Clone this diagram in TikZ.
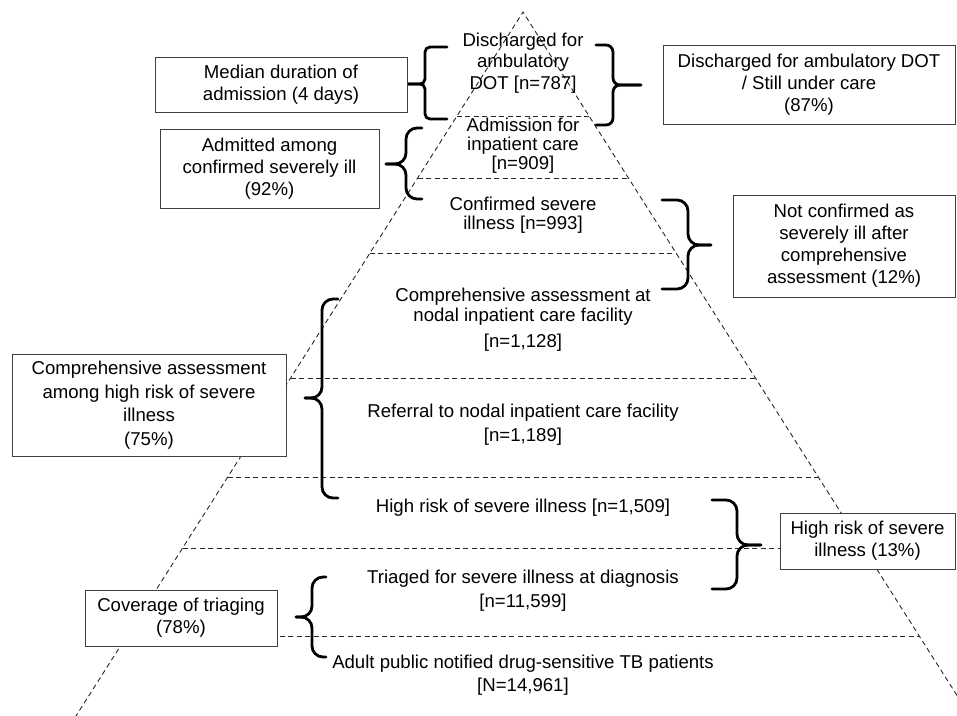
\documentclass[tikz,border=0pt]{standalone}
\usepackage{fontspec}
\setmainfont{Liberation Sans}
\newcommand{\mybrace}[7]{% xe xs xt yt ym yb r
  \draw[bracestyle, rounded corners=#7] (#1,#4) -- (#2,#4) -- (#2,#5) -- (#3,#5);
  \draw[bracestyle, rounded corners=#7] (#3,#5) -- (#2,#5) -- (#2,#6) -- (#1,#6);}
\begin{document}
\begin{tikzpicture}[x=1pt,y=-1pt,
  dashline/.style={dash pattern=on 5pt off 3.5pt, line width=0.9pt, black!85},
  bracestyle/.style={line width=2.8pt, line cap=round, line join=round, black},
  tlabel/.style={align=center, inner sep=0pt, font=\fontsize{18.6}{20}\selectfont},
  box/.style={draw=black!75, line width=1pt, fill=white, align=center, inner sep=0pt,
    font=\fontsize{18.6}{22}\selectfont}]
\useasboundingbox (0,0) rectangle (957,715);
% pyramid
\begin{scope}
\clip (0,0) rectangle (957,715);
\coordinate (apex) at (523,12);
\coordinate (bl) at ({523-0.635*720},732);
\coordinate (br) at ({523+0.635*720},732);
\draw[dashline] (bl) -- (apex) -- (br);
\foreach \yy in {116,178,253,378,477,548,636}
  \draw[dashline] ({523-0.635*(\yy-12)},\yy) -- ({523+0.635*(\yy-12)},\yy);
\end{scope}
% braces
\mybrace{447}{425}{408}{47}{84}{119}{5}
\mybrace{596}{613}{641}{45}{85}{125}{7}
\mybrace{422}{406}{386}{128}{164}{199}{11}
\mybrace{662}{688}{711}{200}{245}{289}{11}
\mybrace{338}{322}{305}{299}{398}{498}{11}
\mybrace{712}{737}{761}{500}{545}{589}{11}
\mybrace{326}{312}{296}{577}{617}{657}{11}
% pyramid labels
\node[tlabel, font=\fontsize{18.6}{21.5}\selectfont] (t1) at (523,63) {Discharged for\\ambulatory\\DOT [n=787]};
\node[tlabel, font=\fontsize{18.6}{19}\selectfont] (t2) at (523,146) {Admission for\\inpatient care\\{[n=909]}};
\node[tlabel, font=\fontsize{18.6}{19}\selectfont] (t3) at (523,215) {Confirmed severe\\illness [n=993]};
\node[tlabel] (t4) at (523,320) {Comprehensive assessment at\\nodal inpatient care facility\\[6pt]{[n=1,128]}};
\node[tlabel, font=\fontsize{18.6}{24}\selectfont] (t5) at (523,425) {Referral to nodal inpatient care facility\\{[n=1,189]}};
\node[tlabel] (t6) at (523,508) {High risk of severe illness [n=1,509]};
\node[tlabel, font=\fontsize{18.6}{24}\selectfont] (t7) at (523,591) {Triaged for severe illness at diagnosis\\{[n=11,599]}};
\node[tlabel, font=\fontsize{18.6}{23}\selectfont] (t8) at (523,675) {Adult public notified drug-sensitive TB patients\\{[N=14,961]}};
% boxes
\node[box, minimum width=252pt, minimum height=55pt] (m1) at (281,84.5) {Median duration of\\admission (4 days)};
\node[box, minimum width=292pt, minimum height=79pt] (m2) at (809,84.5) {Discharged for ambulatory DOT\\/ Still under care\\(87\%)};
\node[box, minimum width=219pt, minimum height=79pt] (m3) at (269.5,168.5) {Admitted among\\confirmed severely ill\\(92\%)};
\node[box, minimum width=222pt, minimum height=102pt] (m4) at (844,246) {Not confirmed as\\severely ill after\\comprehensive\\assessment (12\%)};
\node[box, minimum width=274pt, minimum height=102pt, font=\fontsize{18.6}{23.5}\selectfont] (m5) at (149,405) {Comprehensive assessment\\among high risk of severe\\illness\\(75\%)};
\node[box, minimum width=175pt, minimum height=56pt] (m6) at (867.5,541) {High risk of severe\\illness (13\%)};
\node[box, minimum width=192pt, minimum height=56pt] (m7) at (181,618) {Coverage of triaging\\(78\%)};
\end{tikzpicture}
\end{document}
